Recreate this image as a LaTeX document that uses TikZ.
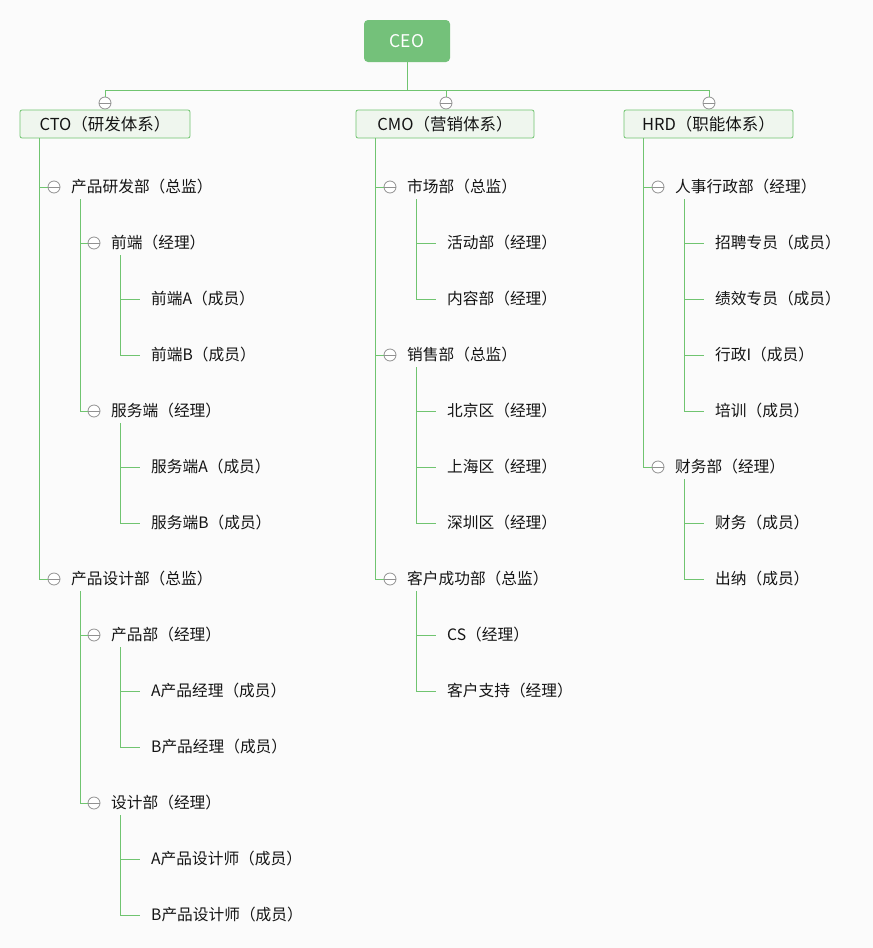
\documentclass[tikz,border=0pt]{standalone}
\usepackage{fontspec}
\setmainfont{Noto Sans CJK SC}
\usepackage{tikz}
\usetikzlibrary{positioning}
\usepackage{xcolor}

\definecolor{linegreen}{RGB}{112,196,112}
\definecolor{ceogreen}{RGB}{116,193,122}
\definecolor{headfill}{RGB}{239,246,238}
\definecolor{foldgrey}{RGB}{145,145,145}
\definecolor{textgrey}{RGB}{20,20,20}
\definecolor{bgcolor}{RGB}{251,251,251}

\tikzset{
  link/.style={draw=linegreen, line width=1pt},
  fold/.style={circle, draw=foldgrey, fill=white, line width=0.8pt, inner sep=0pt, minimum size=12pt,
    path picture={\draw[foldgrey, line width=0.8pt] ([xshift=-6pt]path picture bounding box.center) -- ([xshift=6pt]path picture bounding box.center);}},
  item/.style={anchor=west, inner sep=0pt, text=textgrey, font=\fontsize{15.7}{18}\selectfont},
  head/.style={rectangle, rounded corners=2pt, draw=linegreen, line width=0.8pt, fill=headfill,
    minimum height=28pt, inner sep=0pt, text=textgrey, font=\fontsize{16.5}{18}\selectfont},
}

\begin{document}
\begin{tikzpicture}[x=1pt, y=-1pt]
  \fill[bgcolor] (0,0) rectangle (873,948);
  \useasboundingbox (0,0) rectangle (873,948);
  % Top
  \node (ceo) [rectangle, rounded corners=4pt, fill=ceogreen, minimum width=86pt, minimum height=42pt, text=white, font=\fontsize{17.5}{18}\selectfont] at (407,41) {CEO};
  \coordinate (bus) at (407,90);
  \node (fcto) [fold] at (105,103) {};
  \node (fcmo) [fold] at (446,103) {};
  \node (fhrd) [fold] at (709,103) {};
  \node (cto) [head, minimum width=170pt] at (105,124) {CTO（研发体系）};
  \node (cmo) [head, minimum width=178pt] at (445,124) {CMO（营销体系）};
  \node (hrd) [head, minimum width=169pt] at (708.5,124) {HRD（职能体系）};
  \draw[link] (ceo.south) -- (bus);
  \draw[link] (bus) -| (fcto.north);
  \draw[link] (bus) -| (fcmo.north);
  \draw[link] (bus) -| (fhrd.north);

  % CTO
  \node (frd) [fold] at (54,187) {};
  \node (rd) [item] at (71,187) {产品研发部（总监）};
  \node (ffe) [fold] at (94,243) {};
  \node (fe) [item] at (111,243) {前端（经理）};
  \node (fea) [item] at (151,299) {前端A（成员）};
  \node (feb) [item] at (151,355) {前端B（成员）};
  \node (fbe) [fold] at (94,411) {};
  \node (be) [item] at (111,411) {服务端（经理）};
  \node (bea) [item] at (151,467) {服务端A（成员）};
  \node (beb) [item] at (151,523) {服务端B（成员）};
  \node (fpd) [fold] at (54,579) {};
  \node (pd) [item] at (71,579) {产品设计部（总监）};
  \node (fpm) [fold] at (94,635) {};
  \node (pm) [item] at (111,635) {产品部（经理）};
  \node (pma) [item] at (151,691) {A产品经理（成员）};
  \node (pmb) [item] at (151,747) {B产品经理（成员）};
  \node (fds) [fold] at (94,803) {};
  \node (ds) [item] at (111,803) {设计部（经理）};
  \node (dsa) [item] at (151,859) {A产品设计师（成员）};
  \node (dsb) [item] at (151,915) {B产品设计师（成员）};
  \coordinate (ctoT) at ([xshift=20pt]cto.south west);
  \coordinate (rdT) at (80,199);
  \coordinate (feT) at (120,255);
  \coordinate (beT) at (120,423);
  \coordinate (pdT) at (80,591);
  \coordinate (pmT) at (120,647);
  \coordinate (dsT) at (120,815);
  \foreach \f in {frd,fpd} \draw[link] (ctoT) |- (\f.west);
  \foreach \f in {ffe,fbe} \draw[link] (rdT) |- (\f.west);
  \foreach \f in {fpm,fds} \draw[link] (pdT) |- (\f.west);
  \foreach \n in {fea,feb} \draw[link] (feT) |- ([xshift=-11pt]\n.west);
  \foreach \n in {bea,beb} \draw[link] (beT) |- ([xshift=-11pt]\n.west);
  \foreach \n in {pma,pmb} \draw[link] (pmT) |- ([xshift=-11pt]\n.west);
  \foreach \n in {dsa,dsb} \draw[link] (dsT) |- ([xshift=-11pt]\n.west);

  % CMO
  \node (fmk) [fold] at (390,187) {};
  \node (mk) [item] at (407,187) {市场部（总监）};
  \node (act) [item] at (447,243) {活动部（经理）};
  \node (cnt) [item] at (447,299) {内容部（经理）};
  \node (fsl) [fold] at (390,355) {};
  \node (sl) [item] at (407,355) {销售部（总监）};
  \node (bj) [item] at (447,411) {北京区（经理）};
  \node (sh) [item] at (447,467) {上海区（经理）};
  \node (sz) [item] at (447,523) {深圳区（经理）};
  \node (fcs) [fold] at (390,579) {};
  \node (cs) [item] at (407,579) {客户成功部（总监）};
  \node (csm) [item] at (447,635) {CS（经理）};
  \node (csp) [item] at (447,691) {客户支持（经理）};
  \coordinate (cmoT) at ([xshift=20pt]cmo.south west);
  \coordinate (mkT) at (416,199);
  \coordinate (slT) at (416,367);
  \coordinate (csT) at (416,591);
  \foreach \f in {fmk,fsl,fcs} \draw[link] (cmoT) |- (\f.west);
  \foreach \n in {act,cnt} \draw[link] (mkT) |- ([xshift=-11pt]\n.west);
  \foreach \n in {bj,sh,sz} \draw[link] (slT) |- ([xshift=-11pt]\n.west);
  \foreach \n in {csm,csp} \draw[link] (csT) |- ([xshift=-11pt]\n.west);

  % HRD
  \node (fhr) [fold] at (658,187) {};
  \node (hr) [item] at (675,187) {人事行政部（经理）};
  \node (rec) [item] at (715,243) {招聘专员（成员）};
  \node (perf) [item] at (715,299) {绩效专员（成员）};
  \node (adm) [item] at (715,355) {行政I（成员）};
  \node (trn) [item] at (715,411) {培训（成员）};
  \node (ffin) [fold] at (658,467) {};
  \node (fin) [item] at (675,467) {财务部（经理）};
  \node (acc) [item] at (715,523) {财务（成员）};
  \node (cash) [item] at (715,579) {出纳（成员）};
  \coordinate (hrdT) at ([xshift=20pt]hrd.south west);
  \coordinate (hrT) at (684,199);
  \coordinate (finT) at (684,479);
  \foreach \f in {fhr,ffin} \draw[link] (hrdT) |- (\f.west);
  \foreach \n in {rec,perf,adm,trn} \draw[link] (hrT) |- ([xshift=-11pt]\n.west);
  \foreach \n in {acc,cash} \draw[link] (finT) |- ([xshift=-11pt]\n.west);
\end{tikzpicture}
\end{document}
